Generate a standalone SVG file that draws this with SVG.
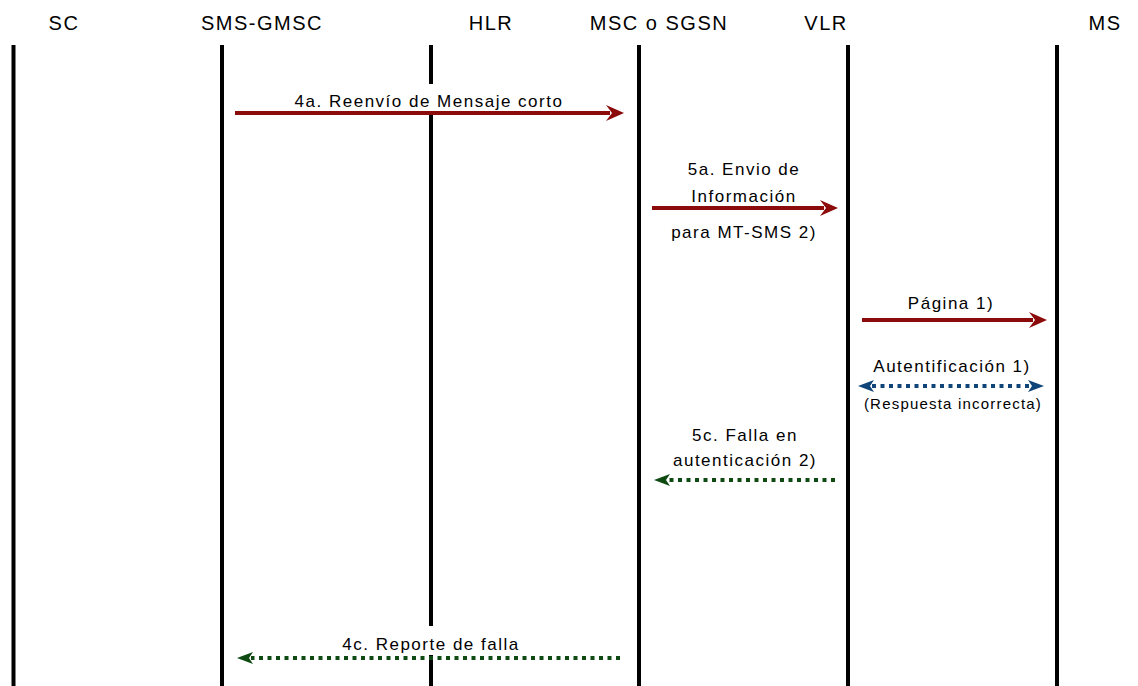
<svg xmlns="http://www.w3.org/2000/svg" width="1138" height="686" viewBox="0 0 1138 686">
<style>
.hdr{font-family:"Liberation Sans",Arial,sans-serif;font-size:20px;letter-spacing:1.5px;fill:#000;text-anchor:middle}
.lbl{font-family:"Liberation Sans",Arial,sans-serif;font-size:17px;letter-spacing:1.5px;fill:#000;text-anchor:middle}
.sml{font-family:"Liberation Sans",Arial,sans-serif;font-size:15px;letter-spacing:1.2px;fill:#000;text-anchor:middle}
.life{fill:#000}
.red{stroke:#8b0a0a;stroke-width:4;fill:none}
.grn{stroke:#0f4a12;stroke-width:4;fill:none;stroke-dasharray:4 4.5}
.blu{stroke:#10457a;stroke-width:4;fill:none;stroke-dasharray:4 4.5}
.redh{fill:#8b0a0a}
.grnh{fill:#0f4a12}
.bluh{fill:#10457a}
.bg{fill:#fff}
</style>
<rect width="1138" height="686" fill="#fff"/>
<g id="node-sc"><text class="hdr" x="64" y="30">SC</text><rect class="life" x="11.5" y="45" width="4" height="641"/></g>
<g id="node-smsgmsc"><text class="hdr" x="262" y="30">SMS-GMSC</text><rect class="life" x="220" y="45" width="4" height="641"/></g>
<g id="node-hlr"><text class="hdr" x="491" y="30">HLR</text><rect class="life" x="429" y="45" width="4" height="641"/></g>
<g id="node-msc"><text class="hdr" x="659" y="30">MSC o SGSN</text><rect class="life" x="637" y="45" width="4" height="641"/></g>
<g id="node-vlr"><text class="hdr" x="826" y="30">VLR</text><rect class="life" x="846" y="45" width="4" height="641"/></g>
<g id="node-ms"><text class="hdr" x="1105" y="30">MS</text><rect class="life" x="1055" y="45" width="4" height="641"/></g>
<g id="connectors">
  <g id="msg-4a">
    <rect class="bg" x="290" y="84" width="278" height="27"/>
    <text class="lbl" x="429" y="107">4a. Reenvío de Mensaje corto</text>
    <line class="red" x1="235" y1="113" x2="610" y2="113"/>
    <path class="redh" d="M624,113 L606,105 L612,113 L606,121 Z"/>
  </g>
  <g id="msg-5a">
    <text class="lbl" x="744" y="175">5a. Envio de</text>
    <text class="lbl" x="744" y="202">Información</text>
    <text class="lbl" x="744" y="238">para MT-SMS 2)</text>
    <line class="red" x1="652" y1="208" x2="824" y2="208"/>
    <path class="redh" d="M838,208 L820,200 L826,208 L820,216 Z"/>
  </g>
  <g id="msg-pagina">
    <text class="lbl" x="951" y="309">Página 1)</text>
    <line class="red" x1="862" y1="320" x2="1033" y2="320"/>
    <path class="redh" d="M1047,320 L1029,312 L1035,320 L1029,328 Z"/>
  </g>
  <g id="msg-aut">
    <text class="lbl" x="952" y="372">Autentificación 1)</text>
    <line class="blu" x1="872" y1="386" x2="1030" y2="386"/>
    <path class="bluh" d="M858,386 L874,380 L870,386 L874,392 Z"/>
    <path class="bluh" d="M1044,386 L1028,380 L1032,386 L1028,392 Z"/>
    <text class="sml" x="953" y="409">(Respuesta incorrecta)</text>
  </g>
  <g id="msg-5c">
    <text class="lbl" x="745" y="441">5c. Falla en</text>
    <text class="lbl" x="745" y="466">autenticación 2)</text>
    <line class="grn" x1="835" y1="480" x2="668" y2="480"/>
    <path class="grnh" d="M654,480 L670,474 L666,480 L670,486 Z"/>
  </g>
  <g id="msg-4c">
    <rect class="bg" x="330" y="626" width="200" height="29"/>
    <text class="lbl" x="431" y="650">4c. Reporte de falla</text>
    <line class="grn" x1="620" y1="658" x2="251" y2="658"/>
    <path class="grnh" d="M237,658 L253,652 L249,658 L253,664 Z"/>
  </g>
</g>
</svg>
